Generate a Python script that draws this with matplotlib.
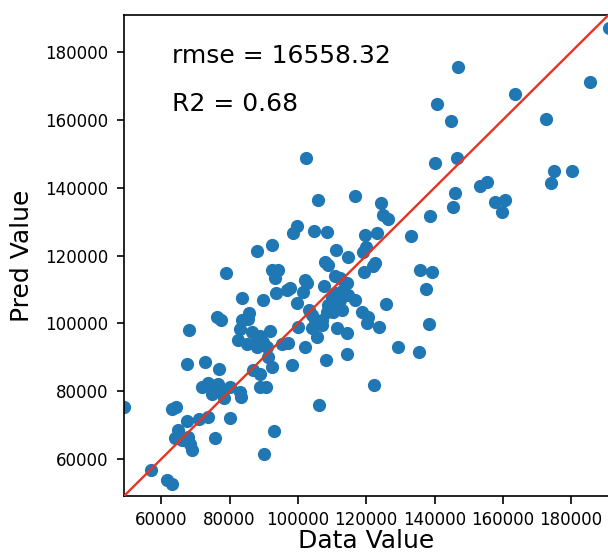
import matplotlib
matplotlib.use("Agg")
import matplotlib.pyplot as plt

# data values (true) and predicted values
data_value = [
    146800, 140700, 144900, 163600, 185600, 191000, 102400, 172500, 140200, 146550,
    175100, 180200, 174000, 153400, 155300, 146100, 145400, 157800, 160500, 159700,
    138800, 105800, 116750, 124200, 125000, 126300, 99800, 98700, 104700, 108600,
    119700, 123300, 133250, 92500, 88000, 111200, 119900, 119200, 114800, 107800,
    108900, 122700, 122000, 79000, 92300, 94300, 93300, 119300, 135800, 139400,
    137600, 102100, 102700, 111000, 112400, 114300, 107600, 97700, 96700, 101600,
    110900, 113300, 114800, 109900, 112400, 116750, 125800, 99800, 83700, 89900,
    93600, 108900, 111900, 112900, 110400, 108500, 103100, 104100, 105000, 107000,
    118700, 120650, 120200, 123600, 107000, 100100, 104100, 105500, 111400, 114300,
    97200, 102100, 114500, 129300, 108300, 98400, 135500, 138400, 76200, 77500,
    85700, 83600, 85500, 83050, 82550, 68000, 86600, 88900, 91850, 87950,
    89900, 85000, 87950, 90900, 91350, 95300, 67600, 72800, 77000, 86950,
    88900, 92450, 71850, 73550, 76700, 74750, 77200, 78500, 80150, 83150,
    83350, 88900, 90700, 93000, 90100, 122300, 106100, 49000, 63050, 64300,
    67600, 71150, 73750, 80150, 64980, 64000, 65980, 67900, 68500, 69080,
    75730, 56900, 61600, 63200,
]
pred_value = [
    175700, 164600, 159800, 167600, 171200, 187200, 148700, 160200, 147200, 148700,
    144900, 144900, 141300, 140500, 141600, 138400, 134300, 135800, 136400, 132900,
    131700, 136400, 137600, 135400, 132000, 130800, 128700, 126600, 127300, 126900,
    126000, 126600, 125800, 123200, 121200, 121500, 122500, 121100, 119700, 118200,
    117200, 117900, 117000, 114800, 115800, 115800, 113300, 115000, 115800, 115250,
    110150, 112700, 111800, 114000, 113300, 111800, 110900, 110400, 109900, 109100,
    108900, 109900, 108400, 107400, 106900, 106900, 105800, 105900, 107600, 106900,
    108900, 105400, 104900, 103950, 103450, 103450, 103950, 102500, 101000, 101000,
    103450, 102000, 100000, 98850, 99500, 99000, 98550, 96100, 98550, 97100,
    94300, 92950, 91000, 93100, 89200, 87800, 91650, 99800, 102000, 101000,
    103150, 101000, 101200, 98250, 95100, 98050, 97500, 96300, 97750, 95100,
    94600, 94050, 92900, 92900, 90200, 93900, 88000, 88700, 86550, 86250,
    85100, 87000, 81350, 82350, 82250, 79300, 80350, 77900, 81350, 79850,
    78300, 81250, 81250, 68250, 61400, 81750, 75850, 75400, 74650, 75400,
    71300, 71700, 72500, 72200, 68550, 66100, 65600, 66600, 64500, 62570,
    66100, 56750, 53950, 52600,
]

axis_limits = [49000, 191000]
x_ticks = [60000, 80000, 100000, 120000, 140000, 160000, 180000]
y_ticks = [60000, 80000, 100000, 120000, 140000, 160000, 180000]
rmse_text = "rmse = 16558.32"
r2_text = "R2 = 0.68"

fig = plt.figure(figsize=(6.08, 5.53), dpi=100)
ax = fig.add_axes([0.2035, 0.1025, 0.7977, 0.8709])

ax.scatter(data_value, pred_value, s=72, color="#1f77b4", zorder=2)
ax.plot(axis_limits, axis_limits, color="#e83323", linewidth=1.7, zorder=3)

ax.set_xlim(axis_limits)
ax.set_ylim(axis_limits)
ax.set_xticks(x_ticks)
ax.set_yticks(y_ticks)
ax.tick_params(labelsize=12, length=5.4, width=1.2, pad=5.4)
for sp in ax.spines.values():
    sp.set_linewidth(1.2)

ax.set_xlabel("Data Value", fontsize=18, labelpad=0)
ax.set_ylabel("Pred Value", fontsize=18, labelpad=8)

ax.text(0.1, 0.9, rmse_text, transform=ax.transAxes, fontsize=18)
ax.text(0.1, 0.8, r2_text, transform=ax.transAxes, fontsize=18)

fig.savefig("out.png", dpi=100)
